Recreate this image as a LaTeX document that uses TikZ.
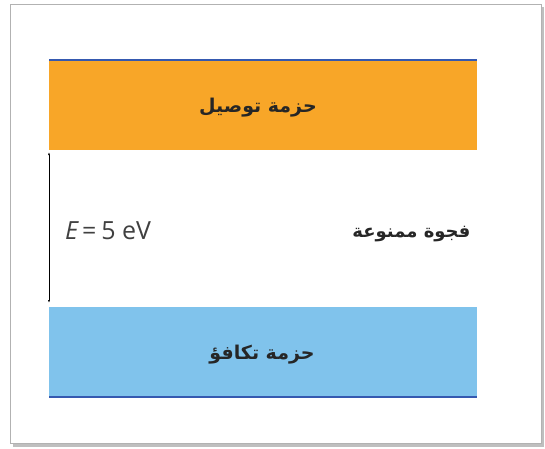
\documentclass[tikz,border=0pt]{standalone}
\usepackage{fontspec}
\usetikzlibrary{arrows.meta}
\setmainfont{DejaVu Sans}
\newfontfamily\arabicfont[Script=Arabic]{DejaVu Sans}
\newfontfamily\latinsans{Open Sans}
\TeXXeTstate=1
\definecolor{bandorange}{HTML}{F8A628}
\definecolor{bandblue}{HTML}{80C3EC}
\definecolor{edgeblue}{HTML}{3559B0}
\begin{document}
\begin{tikzpicture}[x=1pt,y=-1pt,
  band/.style={draw=none,minimum width=428pt,minimum height=90pt,inner sep=0pt,anchor=north west},
  arlabel/.style={font=\arabicfont\bfseries\fontsize{19}{22}\selectfont,text=black!85},
  gaplabel/.style={font=\arabicfont\bfseries\fontsize{18}{21}\selectfont,text=black!85}]
\useasboundingbox (0,0) rectangle (545,448);
\fill[white] (0,0) rectangle (545,448);
% frame with shadow
\fill[black!25] (13,7) rectangle (544,447);
\fill[white,draw=black!30,line width=1pt] (10,4) rectangle (541,443);
% bands
\node[band,fill=bandorange] (cb) at (49,60) {};
\node[band,fill=bandblue] (vb) at (49,307) {};
\draw[edgeblue,line width=2pt] (cb.north west) -- (cb.north east);
\draw[edgeblue,line width=2pt] (vb.south west) -- (vb.south east);
% labels
\node[arlabel] (cbl) at (258,108) {\beginR حزمة توصيل\endR};
\node[arlabel] (vbl) at (262,355) {\beginR حزمة تكافؤ\endR};
\node[gaplabel,anchor=east] (gap) at (474,234) {\beginR فجوة ممنوعة\endR};
\node[anchor=west,inner sep=0pt,font=\latinsans\fontsize{25}{28}\selectfont,text=black!75] (en) at (65,231) {{\itshape E}\kern4pt=\kern5pt5 eV};
% gap arrow
\coordinate (atop) at (49,152);
\coordinate (abot) at (49,303);
\draw[black,line width=1pt,{Latex[length=3pt,width=2pt]}-{Latex[length=3pt,width=2pt]}] (atop) -- (abot);
\end{tikzpicture}
\end{document}
